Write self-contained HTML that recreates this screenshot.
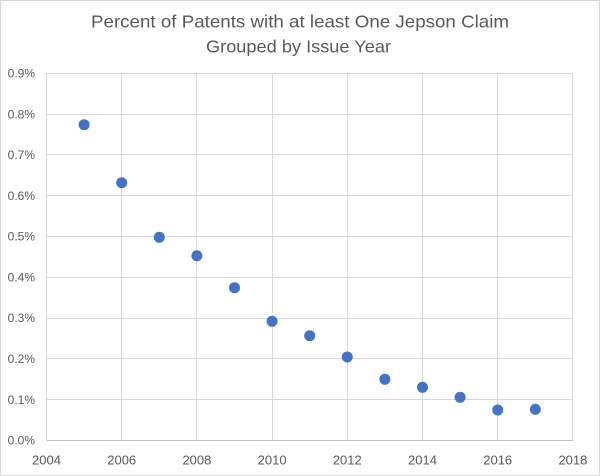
<!DOCTYPE html>
<html>
<head>
<meta charset="utf-8">
<style>
html,body{margin:0;padding:0;background:#fff;}
svg{display:block;}
text{font-family:"Liberation Sans",Arial,sans-serif;fill:#595959;}
</style>
</head>
<body>
<svg width="600" height="476" viewBox="0 0 600 476" xmlns="http://www.w3.org/2000/svg">
<rect x="0.5" y="0.5" width="599" height="475" fill="#fff" stroke="#d9d9d9" stroke-width="1"/>
<text x="300" y="27.7" font-size="17.5" text-anchor="middle" textLength="418" lengthAdjust="spacingAndGlyphs">Percent of Patents with at least One Jepson Claim</text>
<text x="298.5" y="52.7" font-size="17.5" text-anchor="middle" textLength="185" lengthAdjust="spacingAndGlyphs">Grouped by Issue Year</text>
<g stroke="#d9d9d9" stroke-width="1" fill="none">
<line x1="46.5" y1="73.5" x2="573" y2="73.5"/>
<line x1="46.5" y1="114.5" x2="573" y2="114.5"/>
<line x1="46.5" y1="154.5" x2="573" y2="154.5"/>
<line x1="46.5" y1="195.5" x2="573" y2="195.5"/>
<line x1="46.5" y1="236.5" x2="573" y2="236.5"/>
<line x1="46.5" y1="277.5" x2="573" y2="277.5"/>
<line x1="46.5" y1="318.5" x2="573" y2="318.5"/>
<line x1="46.5" y1="358.5" x2="573" y2="358.5"/>
<line x1="46.5" y1="399.5" x2="573" y2="399.5"/>
<line x1="46.5" y1="73" x2="46.5" y2="440"/>
<line x1="121.5" y1="73" x2="121.5" y2="440"/>
<line x1="196.5" y1="73" x2="196.5" y2="440"/>
<line x1="272.5" y1="73" x2="272.5" y2="440"/>
<line x1="347.5" y1="73" x2="347.5" y2="440"/>
<line x1="422.5" y1="73" x2="422.5" y2="440"/>
<line x1="497.5" y1="73" x2="497.5" y2="440"/>
<line x1="572.5" y1="73" x2="572.5" y2="440"/>
</g>
<line x1="46.5" y1="440.5" x2="573" y2="440.5" stroke="#bfbfbf" stroke-width="1"/>
<g font-size="12" text-anchor="end">
<text x="35" y="77.5">0.9%</text>
<text x="35" y="118.3">0.8%</text>
<text x="35" y="159">0.7%</text>
<text x="35" y="199.8">0.6%</text>
<text x="35" y="240.6">0.5%</text>
<text x="35" y="281.4">0.4%</text>
<text x="35" y="322.2">0.3%</text>
<text x="35" y="363">0.2%</text>
<text x="35" y="403.8">0.1%</text>
<text x="35" y="444.5">0.0%</text>
</g>
<g font-size="13" text-anchor="middle">
<text x="46.5" y="464.7">2004</text>
<text x="121.7" y="464.7">2006</text>
<text x="196.9" y="464.7">2008</text>
<text x="272.1" y="464.7">2010</text>
<text x="347.3" y="464.7">2012</text>
<text x="422.5" y="464.7">2014</text>
<text x="497.7" y="464.7">2016</text>
<text x="572.9" y="464.7">2018</text>
</g>
<g fill="#4472c4">
<circle cx="84.1" cy="124.7" r="5.5"/>
<circle cx="121.7" cy="182.7" r="5.5"/>
<circle cx="159.3" cy="237.3" r="5.5"/>
<circle cx="196.9" cy="255.7" r="5.5"/>
<circle cx="234.5" cy="287.7" r="5.5"/>
<circle cx="272.1" cy="321.3" r="5.5"/>
<circle cx="309.7" cy="335.7" r="5.5"/>
<circle cx="347.3" cy="357" r="5.5"/>
<circle cx="384.9" cy="379.3" r="5.5"/>
<circle cx="422.5" cy="387.3" r="5.5"/>
<circle cx="460.1" cy="397.3" r="5.5"/>
<circle cx="497.7" cy="410" r="5.5"/>
<circle cx="535.3" cy="409.3" r="5.5"/>
</g>
</svg>
</body>
</html>
